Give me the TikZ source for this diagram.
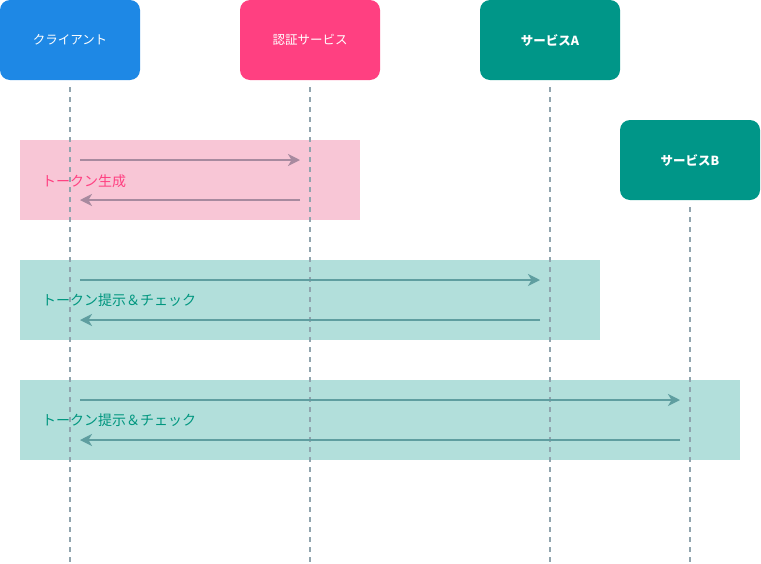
\documentclass[tikz,border=0pt]{standalone}
\usepackage{fontspec}
\setmainfont{Noto Sans CJK JP}
\usetikzlibrary{arrows.meta}
\definecolor{cClient}{HTML}{1E88E5}
\definecolor{cAuth}{HTML}{FF4081}
\definecolor{cSvc}{HTML}{009688}
\definecolor{cLife}{HTML}{90A4AE}
\definecolor{cPink}{HTML}{F8C6D6}
\definecolor{cTeal}{HTML}{B2DFDB}
\definecolor{cArrP}{HTML}{A78A9F}
\definecolor{cArrT}{HTML}{5F9EA0}
\definecolor{cLblP}{HTML}{FF4081}
\definecolor{cLblT}{HTML}{00967F}
\tikzset{
  actor/.style={draw=none, rounded corners=10pt, minimum width=140pt, minimum height=80pt, inner sep=0pt, text=white, font=\fontsize{12.5}{14}\selectfont},
  lifeline/.style={cLife, line width=1.5pt, dash pattern=on 5pt off 5pt},
  msgP/.style={cArrP, line width=1.5pt, -{Stealth[length=12pt,width=12pt,inset=3.5pt]}},
  msgT/.style={cArrT, line width=1.5pt, -{Stealth[length=12pt,width=12pt,inset=3.5pt]}},
  lbl/.style={anchor=west, inner sep=0pt, font=\fontsize{14}{16}\selectfont},
}
\begin{document}
\begin{tikzpicture}[x=1pt,y=-1pt]
\useasboundingbox (0,0) rectangle (761,563);
% group backgrounds
\fill[cPink] (20,140) rectangle (360,220);
\fill[cTeal] (20,260) rectangle (600,340);
\fill[cTeal] (20,380) rectangle (740,460);
% actors
\node[actor, fill=cClient] (cl) at (70,40) {クライアント};
\node[actor, fill=cAuth] (au) at (310,40) {認証サービス};
\node[actor, fill=cSvc] (sa) at (550,40) {\textbf{サービスA}};
\node[actor, fill=cSvc] (sb) at (690,160) {\textbf{サービスB}};
% lifelines
\coordinate (clE) at (70,562);
\coordinate (auE) at (310,562);
\coordinate (saE) at (550,562);
\coordinate (sbE) at (690,562);
\draw[lifeline] ([yshift=-7pt]cl.south) -- (clE);
\draw[lifeline] ([yshift=-7pt]au.south) -- (auE);
\draw[lifeline] ([yshift=-7pt]sa.south) -- (saE);
\draw[lifeline] ([yshift=-7pt]sb.south) -- (sbE);
% message endpoints
\coordinate (c1) at (80,160); \coordinate (a1) at (300,160);
\coordinate (c2) at (80,200); \coordinate (a2) at (300,200);
\coordinate (c3) at (80,280); \coordinate (s3) at (540,280);
\coordinate (c4) at (80,320); \coordinate (s4) at (540,320);
\coordinate (c5) at (80,400); \coordinate (b5) at (680,400);
\coordinate (c6) at (80,440); \coordinate (b6) at (680,440);
\draw[msgP] (c1) -- (a1);
\draw[msgP] (a2) -- (c2);
\draw[msgT] (c3) -- (s3);
\draw[msgT] (s4) -- (c4);
\draw[msgT] (c5) -- (b5);
\draw[msgT] (b6) -- (c6);
% labels
\node[lbl, text=cLblP] (l1) at (42,181) {トークン生成};
\node[lbl, text=cLblT] (l2) at (42,300) {トークン提示＆チェック};
\node[lbl, text=cLblT] (l3) at (42,420) {トークン提示＆チェック};
\end{tikzpicture}
\end{document}
